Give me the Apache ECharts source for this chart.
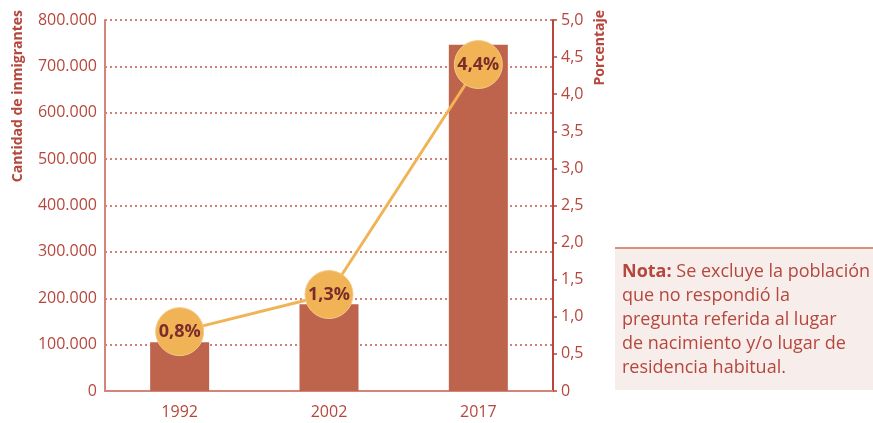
<!DOCTYPE html>
<html><head><meta charset="utf-8">
<script src="https://cdn.jsdelivr.net/npm/echarts@6/dist/echarts.min.js"></script>
<style>html,body{margin:0;padding:0;background:#fff}#c{width:873px;height:423px}</style>
</head><body><div id="c"></div>
<script>
const categories = ['1992', '2002', '2017'];
const immigrants = [105070, 187008, 746465];
const percent = [0.8, 1.3, 4.4];
const leftAxisName = 'Cantidad de inmigrantes';
const rightAxisName = 'Porcentaje';
const noteLines = ['{b|Nota:} Se excluye la población', 'que no respondió la', 'pregunta referida al lugar', 'de nacimiento y/o lugar de', 'residencia habitual.'];

const FONT = 'Open Sans';
const LABEL = '#B5473D';
const chart = echarts.init(document.getElementById('c'));
const fmtThousands = v => v === 0 ? '0' : String(v).replace(/\B(?=(\d{3})+(?!\d))/g, '.');
const fmtComma = v => v === 0 ? '0' : v.toFixed(1).replace('.', ',');

chart.setOption({
  animation: false,
  textStyle: { fontFamily: FONT },
  grid: { left: 105, right: 320, top: 20, bottom: 32, containLabel: false },
  xAxis: {
    type: 'category', data: categories,
    axisLine: { lineStyle: { color: '#D3857A', width: 2 } },
    axisTick: { show: false },
    axisLabel: { color: LABEL, fontSize: 16, margin: 13, fontFamily: FONT }
  },
  yAxis: [{
    type: 'value', min: 0, max: 800000, interval: 100000,
    axisLine: { show: true, lineStyle: { color: '#D3857A', width: 2 } },
    axisTick: { show: false },
    axisLabel: { color: LABEL, fontSize: 16, margin: 8, formatter: fmtThousands, fontFamily: FONT },
    splitLine: { show: true, lineStyle: { color: '#C4564C', width: 1.5, type: [2, 3] } }
  }, {
    type: 'value', min: 0, max: 5, interval: 0.5, position: 'right',
    axisLine: { show: true, lineStyle: { color: '#B8463C', width: 2 } },
    axisTick: { show: true, inside: false, length: 4, lineStyle: { color: '#B8463C', width: 1.5 } },
    axisLabel: { color: LABEL, fontSize: 16, margin: 8, formatter: fmtComma, fontFamily: FONT },
    splitLine: { show: false }
  }],
  series: [{
    type: 'bar', data: immigrants, yAxisIndex: 0, barWidth: 59,
    itemStyle: { color: '#BF644C' }
  }, {
    type: 'line', data: percent, yAxisIndex: 1,
    lineStyle: { color: '#F0B457', width: 3 },
    symbol: 'circle', symbolSize: 48,
    itemStyle: { color: '#F0B457', borderColor: '#F5C985', borderWidth: 1 },
    label: {
      show: true, position: 'inside', color: '#7A2D2B', fontWeight: 'bold', fontSize: 18, fontFamily: FONT,
      formatter: p => p.value.toFixed(1).replace('.', ',') + '%'
    },
    z: 5
  }],
  graphic: [
    { type: 'text', x: 18, y: 10, rotation: Math.PI / 2,
      style: { text: leftAxisName, fill: LABEL, font: 'bold 14px "' + FONT + '"', textAlign: 'right', textVerticalAlign: 'middle' } },
    { type: 'text', x: 600, y: 10, rotation: Math.PI / 2,
      style: { text: rightAxisName, fill: LABEL, font: 'bold 14px "' + FONT + '"', textAlign: 'right', textVerticalAlign: 'middle' } },
    { type: 'rect', shape: { x: 615, y: 248, width: 260, height: 142 }, style: { fill: '#F7EEEB' } },
    { type: 'line', shape: { x1: 615, y1: 248, x2: 873, y2: 248 }, style: { stroke: '#D8907F', lineWidth: 2 } },
    { type: 'text', x: 622, y: 260,
      style: {
        text: noteLines.join('\n'), fill: LABEL, fontSize: 18, fontFamily: FONT, lineHeight: 24,
        rich: { b: { fontWeight: 'bold', fill: LABEL, fontSize: 18, fontFamily: FONT, lineHeight: 24 } }
      } }
  ]
});
</script></body></html>
